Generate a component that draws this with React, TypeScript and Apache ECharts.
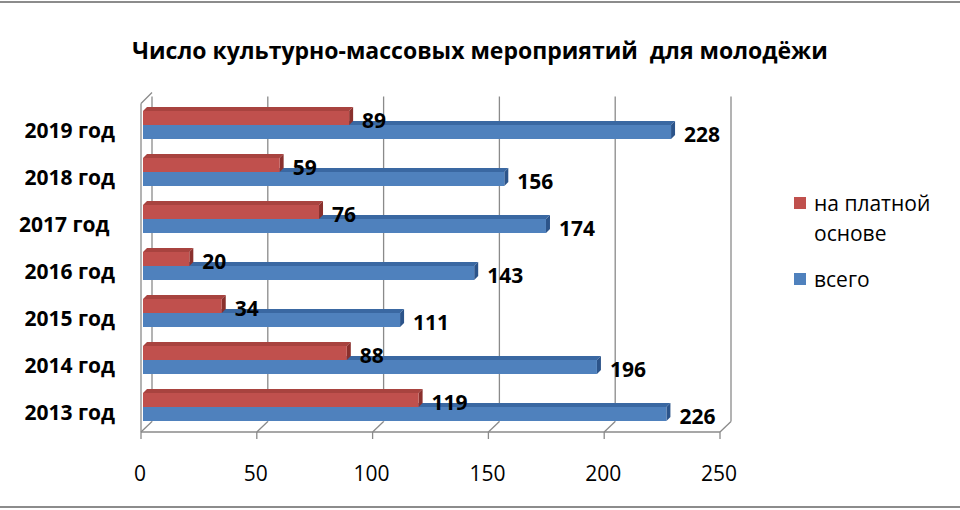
import React, { useEffect, useRef } from "react";
import * as echarts from "echarts";

const titleText = "Число культурно-массовых мероприятий  для молодёжи";
const categories = ["2013 год", "2014 год", "2015 год", "2016 год", "2017 год\u00a0", "2018 год", "2019 год"];
const paidValues = [119, 88, 34, 20, 76, 59, 89];
const totalValues = [226, 196, 111, 143, 174, 156, 228];
const axisTicks = [0, 50, 100, 150, 200, 250];
const seriesNames = ["на платной основе", "всего"];
const legendLines = [["на платной", "основе"], ["всего"]];

const FONT = "'Open Sans', 'Noto Sans', sans-serif";
const GRID_COLOR = "#8a8a8a";
const COLORS = {
  paid: { front: "#C0504D", top: "#A8433F", side: "#8A302D" },
  total: { front: "#4F81BD", top: "#3A68A2", side: "#2C548A" },
};
const BAR_H = 14;
const DEPTH = 4;

function makeBarRenderer(kind: "paid" | "total") {
  return (params: any, api: any) => {
    const cat = api.value(0);
    const val = api.value(1);
    const start = api.coord([0, cat]);
    const end = api.coord([val, cat]);
    const cy = start[1];
    const y0 = kind === "paid" ? cy - BAR_H : cy;
    const y1 = y0 + BAR_H;
    const x0 = start[0];
    const x1 = end[0];
    const c = COLORS[kind];
    const labelDy = kind === "paid" ? 2 : 1.5;
    return {
      type: "group",
      children: [
        {
          type: "polygon",
          shape: { points: [[x0, y0], [x1, y0], [x1 + DEPTH, y0 - DEPTH], [x0 + DEPTH, y0 - DEPTH]] },
          style: { fill: c.top },
        },
        {
          type: "polygon",
          shape: { points: [[x1, y0], [x1 + DEPTH, y0 - DEPTH], [x1 + DEPTH, y1 - DEPTH], [x1, y1]] },
          style: { fill: c.side },
        },
        {
          type: "rect",
          shape: { x: x0, y: y0, width: x1 - x0, height: BAR_H },
          style: { fill: c.front },
        },
        {
          type: "text",
          z2: 10,
          style: {
            text: String(val),
            x: x1 + 13,
            y: (y0 + y1) / 2 + labelDy,
            verticalAlign: "middle",
            align: "left",
            fill: "#000",
            font: `bold 21px ${FONT}`,
          },
        },
      ],
    };
  };
}

function frameRenderer(params: any, api: any) {
  const v = api.value(0);
  const p = api.coord([v, 0]);
  const cs = params.coordSys;
  const top = cs.y;
  const bottom = cs.y + cs.height;
  const bx = p[0] + 9;
  const fx = p[0] - 2;
  const backTop = top - 5;
  const backBottom = bottom - 9;
  const frontY = bottom + 1.5;
  const st = { stroke: GRID_COLOR, lineWidth: 1.3, fill: "none" };
  const children: any[] = [
    { type: "line", shape: { x1: bx, y1: backTop, x2: bx, y2: backBottom }, style: st },
    { type: "line", shape: { x1: bx, y1: backBottom, x2: fx, y2: frontY }, style: st },
    { type: "line", shape: { x1: fx, y1: frontY, x2: fx, y2: frontY + 7 }, style: st },
  ];
  if (v === axisTicks[0]) {
    const last = api.coord([axisTicks[axisTicks.length - 1], 0]);
    children.push(
      { type: "line", shape: { x1: fx, y1: top + 2, x2: fx, y2: frontY }, style: st },
      { type: "line", shape: { x1: fx, y1: top + 2, x2: bx, y2: backTop - 4 }, style: st },
      { type: "line", shape: { x1: fx, y1: frontY, x2: last[0] - 2, y2: frontY }, style: st }
    );
  }
  return { type: "group", children };
}

export default function App() {
  const ref = useRef<HTMLDivElement>(null);
  useEffect(() => {
    if (!ref.current) return;
    const chart = echarts.init(ref.current, undefined, { renderer: "svg" });
    chart.setOption({
      animation: false,
      backgroundColor: "#fff",
      title: {
        text: titleText,
        left: "center",
        top: 33,
        textStyle: { fontFamily: FONT, fontWeight: "bold", fontSize: 23, color: "#000" },
      },
      grid: { left: 143, right: 238, top: 101.5, height: 329, containLabel: false },
      xAxis: {
        type: "value",
        min: 0,
        max: 250,
        interval: 50,
        axisLine: { show: false },
        axisTick: { show: false },
        splitLine: { show: false },
        axisLabel: {
          margin: 32,
          padding: [0, 6, 0, 0],
          fontFamily: FONT,
          fontSize: 21,
          color: "#000",
        },
      },
      yAxis: {
        type: "category",
        data: categories,
        axisLine: { show: false },
        axisTick: { show: false },
        axisLabel: {
          margin: 28,
          verticalAlign: "top",
          lineHeight: 10,
          fontFamily: FONT,
          fontWeight: "bold",
          fontSize: 21,
          color: "#000",
        },
      },
      graphic: [
        {
          type: "rect",
          shape: { x: -10, y: 2, width: 980, height: 505 },
          style: { fill: "none", stroke: "#8c8c8c", lineWidth: 2 },
          silent: true,
        },
        {
          type: "rect",
          shape: { x: 794, y: 197, width: 12, height: 12 },
          style: { fill: COLORS.paid.front },
        },
        {
          type: "text",
          style: { text: legendLines[0][0], x: 814, y: 203, verticalAlign: "middle", font: `21px ${FONT}`, fill: "#000" },
        },
        {
          type: "text",
          style: { text: legendLines[0][1], x: 814, y: 233, verticalAlign: "middle", font: `21px ${FONT}`, fill: "#000" },
        },
        {
          type: "rect",
          shape: { x: 794, y: 273, width: 12, height: 12 },
          style: { fill: COLORS.total.front },
        },
        {
          type: "text",
          style: { text: legendLines[1][0], x: 814, y: 279, verticalAlign: "middle", font: `21px ${FONT}`, fill: "#000" },
        },
      ],
      series: [
        {
          type: "custom",
          name: "frame",
          silent: true,
          z: 1,
          renderItem: frameRenderer,
          encode: { x: 0, y: 1 },
          data: axisTicks.map((v) => [v, 0]),
        },
        {
          type: "custom",
          name: seriesNames[1],
          z: 2,
          renderItem: makeBarRenderer("total"),
          encode: { x: 1, y: 0 },
          data: totalValues.map((v, i) => [i, v]),
        },
        {
          type: "custom",
          name: seriesNames[0],
          z: 3,
          renderItem: makeBarRenderer("paid"),
          encode: { x: 1, y: 0 },
          data: paidValues.map((v, i) => [i, v]),
        },
      ],
    });
    return () => chart.dispose();
  }, []);
  return <div ref={ref} style={{ position: "fixed", left: 0, top: 0, width: 960, height: 510 }} />;
}
